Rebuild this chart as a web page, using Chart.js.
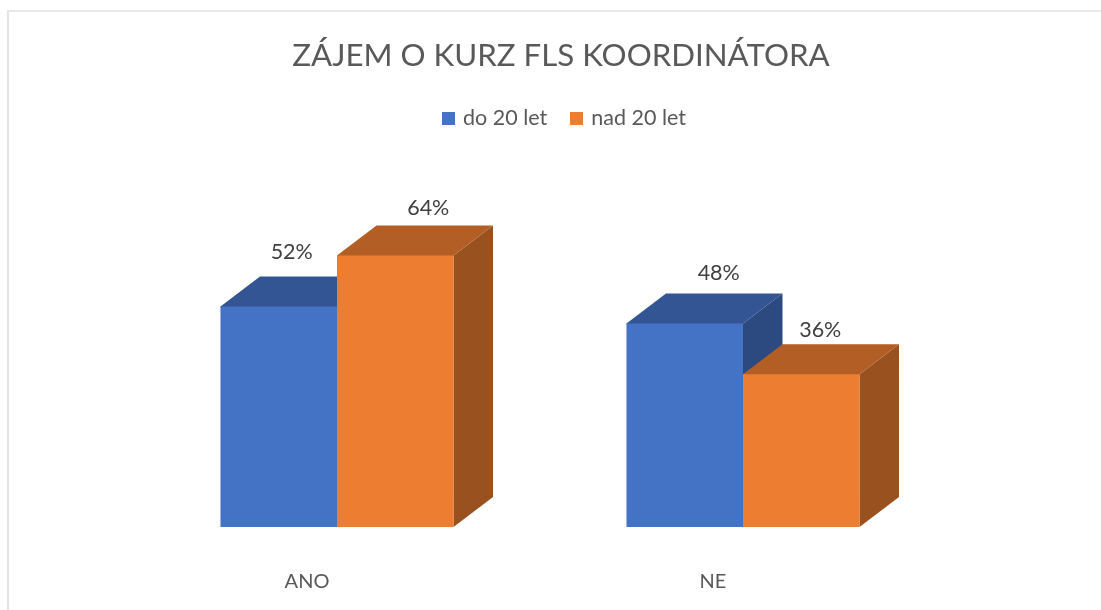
<!DOCTYPE html>
<html>
<head>
<meta charset="utf-8">
<title>Zájem o kurz FLS koordinátora</title>
<script src="https://cdn.jsdelivr.net/npm/chart.js@4"></script>
<style>
html,body{margin:0;padding:0;background:#fff;overflow:hidden}
#wrap{position:relative;width:1101px;height:610px}
#frame{position:absolute;left:7px;top:10px;right:0;bottom:0;border-left:2px solid #e4e4e4;border-top:2px solid #e8e8e8}
canvas{position:absolute;left:0;top:0}
</style>
</head>
<body>
<div id="wrap"><div id="frame"></div><canvas id="c" width="1101" height="610"></canvas></div>
<script>
const categories = ['ANO', 'NE'];
const seriesNames = ['do 20 let', 'nad 20 let'];
const under20 = [52, 48];
const over20 = [64, 36];
const chartTitle = 'ZÁJEM O KURZ FLS KOORDINÁTORA';

const FONT = 'Lato, "Open Sans", sans-serif';
const FRONT = ['#4472C4', '#ED7D31'];
const TOP = ['#335593', '#B25E25'];
const SIDE = ['#2C4A7F', '#9A5120'];
const DEPTH_X = 39.5, DEPTH_Y = 30;
const LEGEND_SHIFT = 4.5;
// label nudges relative to each bar's top centre, per dataset then category
const LABEL_NUDGE = [[[13, -54], [34, -50]], [[33, -48], [19, -44]]];

function poly(ctx, pts, color) {
  ctx.fillStyle = color;
  ctx.beginPath();
  pts.forEach((p, i) => i ? ctx.lineTo(p[0], p[1]) : ctx.moveTo(p[0], p[1]));
  ctx.closePath();
  ctx.fill();
}

function swatch(color) {
  const c = document.createElement('canvas');
  c.width = 13; c.height = 13;
  const g = c.getContext('2d');
  g.fillStyle = color;
  g.fillRect(0, 0, 13, 13);
  return c;
}
const SWATCHES = FRONT.map(swatch);

const extrude = {
  id: 'extrude',
  afterLayout(chart) {
    chart.legend.left += LEGEND_SHIFT;
    chart.legend.right += LEGEND_SHIFT;
  },
  beforeDatasetsDraw(chart) {
    const ctx = chart.ctx;
    ctx.save();
    chart.data.datasets.forEach((ds, d) => {
      chart.getDatasetMeta(d).data.forEach(bar => {
        const l = bar.x - bar.width / 2, r = bar.x + bar.width / 2;
        const t = bar.y, b = bar.base;
        poly(ctx, [[r, t], [r + DEPTH_X, t - DEPTH_Y], [r + DEPTH_X, b - DEPTH_Y], [r, b]], SIDE[d]);
        // the top face runs 1px under the front face so no seam shows through
        poly(ctx, [[l, t + 1], [l, t], [l + DEPTH_X, t - DEPTH_Y], [r + DEPTH_X, t - DEPTH_Y], [r, t], [r, t + 1]], TOP[d]);
      });
    });
    ctx.restore();
  },
  afterDatasetsDraw(chart) {
    const ctx = chart.ctx;
    ctx.save();
    ctx.font = '21.5px ' + FONT;
    ctx.fillStyle = '#404040';
    ctx.textAlign = 'center';
    ctx.textBaseline = 'middle';
    chart.data.datasets.forEach((ds, d) => {
      chart.getDatasetMeta(d).data.forEach((bar, i) => {
        const n = LABEL_NUDGE[d][i];
        ctx.fillText(ds.data[i] + '%', bar.x + n[0], bar.y + n[1]);
      });
    });
    ctx.restore();
  }
};

new Chart(document.getElementById('c'), {
  type: 'bar',
  plugins: [extrude],
  data: {
    labels: categories,
    datasets: [
      { label: seriesNames[0], data: under20, backgroundColor: FRONT[0] },
      { label: seriesNames[1], data: over20, backgroundColor: FRONT[1] }
    ]
  },
  options: {
    responsive: false,
    animation: false,
    layout: { padding: { left: 21, right: 0, top: 0, bottom: 0 } },
    datasets: { bar: { barPercentage: 1, categoryPercentage: 0.574 } },
    plugins: {
      tooltip: { enabled: false },
      title: {
        display: true,
        text: chartTitle,
        color: '#595959',
        font: { family: FONT, size: 31.25, weight: 'normal', lineHeight: 1.2 },
        padding: { top: 37, bottom: 7 }
      },
      legend: {
        display: true,
        position: 'top',
        labels: {
          color: '#595959',
          usePointStyle: true,
          pointStyleWidth: 7.25,
          padding: 26,
          font: { family: FONT, size: 21.5 },
          generateLabels(chart) {
            return Chart.defaults.plugins.legend.labels.generateLabels(chart)
              .map((item, i) => Object.assign(item, { pointStyle: SWATCHES[i] }));
          }
        }
      }
    },
    scales: {
      x: {
        grid: { display: false },
        border: { display: false },
        ticks: {
          color: '#595959',
          font: { family: FONT, size: 20 },
          padding: 35,
          labelOffset: -30,
          maxRotation: 0
        },
        afterFit(s) { s.height = 83; }
      },
      y: {
        min: 0,
        max: 91.5,
        grid: { display: false },
        border: { display: false },
        ticks: { display: false },
        afterFit(s) { s.width = 113; }
      },
      yr: {
        position: 'right',
        min: 0,
        max: 91.5,
        grid: { display: false },
        border: { display: false },
        ticks: { display: false },
        afterFit(s) { s.width = 155; }
      }
    }
  }
});
</script>
</body>
</html>
